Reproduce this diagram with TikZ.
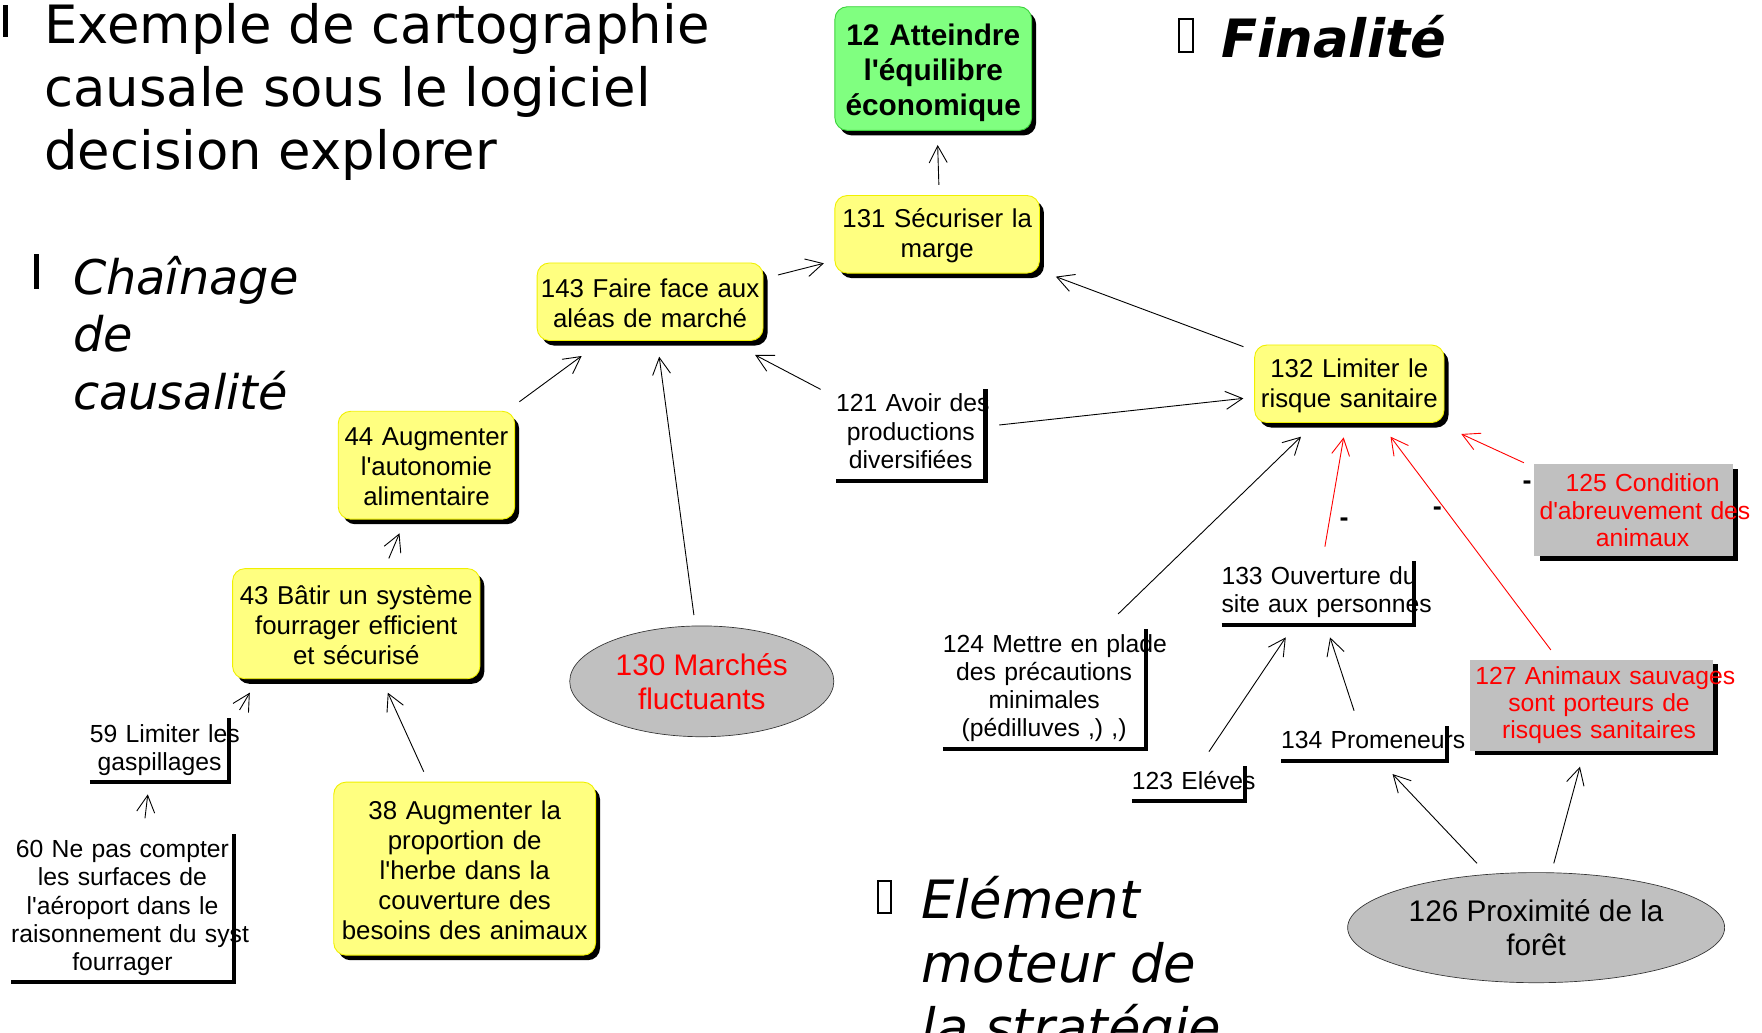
\documentclass[tikz,border=0pt]{standalone}
\usepackage{fontspec}
\setmainfont{Liberation Sans}[Ligatures=TeXOff]
\newfontfamily\headfont{DejaVu Sans}[BoldFont={DejaVu Sans Bold},ItalicFont={DejaVu Sans Oblique},BoldItalicFont={DejaVu Sans Bold Oblique}]
\usetikzlibrary{arrows.meta,shapes.geometric,shadows}

\definecolor{notefill}{RGB}{255,255,128}
\definecolor{noteedge}{RGB}{240,240,0}
\definecolor{goalfill}{RGB}{128,255,128}
\definecolor{goaledge}{RGB}{60,210,60}
\definecolor{factfill}{RGB}{192,192,192}
\definecolor{negred}{RGB}{255,0,0}

% one line of a label, pushed right inside its centred row
\newcommand\pushedrow[2]{\mbox{\hspace*{#1}#2}}

\tikzset{
  every node/.style={inner sep=0pt, outer sep=0pt},
  box/.style={align=center},
  lift/.style={execute at end node={\par\vspace*{#1}}},
  concept/.style={box, rounded corners=11pt, fill=notefill, draw=noteedge, line width=0.8pt,
    font=\fontsize{23}{26.7}\selectfont, lift=-3pt,
    drop shadow={shadow xshift=4pt, shadow yshift=-4.5pt, opacity=1, fill=black}},
  goal/.style={concept, fill=goalfill, draw=goaledge, font=\bfseries\fontsize{26.5}{31}\selectfont},
  factor/.style={box, fill=factfill, text=negred, font=\fontsize{22}{24.3}\selectfont,
    drop shadow={shadow xshift=5pt, shadow yshift=-4pt, opacity=1, fill=black}},
  driver/.style={box, ellipse, fill=factfill, draw=black!80, line width=0.6pt,
    font=\fontsize{26.5}{30}\selectfont},
  plain/.style={box, font=\fontsize{22}{25.2}\selectfont},
  underline/.style={line width=3.6pt, line cap=butt, line join=miter},
  arr/.style={line width=0.8pt, -{Straight Barb[length=15pt,width=16pt]}},
  negarr/.style={arr, draw=negred},
  sign/.style={font=\bfseries\fontsize{24}{24}\selectfont},
  heading/.style={anchor=base west, font=\headfont\fontsize{47}{56}\selectfont},
  subheading/.style={anchor=base west, font=\headfont\itshape\fontsize{42.5}{51}\selectfont},
  bigsubheading/.style={anchor=base west, font=\headfont\itshape\fontsize{47}{56}\selectfont},
  bulletbox/.style={draw=black, line width=1.7pt}
}

\begin{document}
\begin{tikzpicture}[x=1pt,y=-1pt]
\fill[white] (0,0) rectangle (1568,919);
\useasboundingbox (0,0) rectangle (1568,919);

% headings and their bullets
\fill[black] (2.5,4.5) rectangle (7,33);
\node[heading] (title1) at (39.5,38.8) {Exemple de cartographie};
\node[heading] (title2) at (39.5,95) {causale sous le logiciel};
\node[heading] (title3) at (39.5,151) {decision explorer};

\fill[black] (30,226) rectangle (34.5,257);
\node[subheading] (chain1) at (65,262) {Chaînage};
\node[subheading] (chain2) at (65,313) {de};
\node[subheading] (chain3) at (65,364) {causalité};

\draw[bulletbox] (1049.5,17) rectangle (1061.5,46);
\node[anchor=base west, font=\headfont\bfseries\itshape\fontsize{47}{56}\selectfont] (final) at (1087,51) {Finalité};

\draw[bulletbox] (781.5,784) rectangle (792.5,812.5);
\node[bigsubheading] (drive1) at (820,817) {Elément};
\node[bigsubheading] (drive2) at (820,874) {moteur de};
\node[bigsubheading] (drive3) at (820,931) {la stratégie};

% goal and concepts
\node[goal, text width=175pt, minimum height=110pt, lift=-5pt] (n12) at (830.5,61)
  {\mbox{12 Atteindre}\\\mbox{l'équilibre}\\\mbox{économique}};
\node[concept, text width=182pt, minimum height=69pt] (n131) at (834,208.5)
  {\mbox{131 Sécuriser la}\\\mbox{marge}};
\node[concept, text width=201pt, minimum height=69pt] (n143) at (578.5,268.5)
  {\mbox{143 Faire face aux}\\\mbox{aléas de marché}};
\node[concept, text width=157pt, minimum height=96pt] (n44) at (379.5,414)
  {\mbox{44 Augmenter}\\\mbox{l'autonomie}\\\mbox{alimentaire}};
\node[concept, text width=220pt, minimum height=98pt] (n43) at (317,555)
  {\mbox{43 Bâtir un système}\\\mbox{fourrager efficient}\\\mbox{et sécurisé}};
\node[concept, text width=233pt, minimum height=154pt] (n38) at (413.5,773)
  {\mbox{38 Augmenter la}\\\mbox{proportion de}\\\mbox{l'herbe dans la}\\\mbox{couverture des}\\\mbox{besoins des animaux}};
\node[concept, text width=168.5pt, minimum height=69pt] (n132) at (1200.75,341.5)
  {\mbox{132 Limiter le}\\\mbox{risque sanitaire}};

% external factors
\node[factor, text width=176.5pt, minimum height=82pt] (n125) at (1453.75,454)
  {\pushedrow{16pt}{125 Condition}\\\pushedrow{4.5pt}{d'abreuvement des}\\\pushedrow{16pt}{animaux}};
\node[factor, text width=216pt, minimum height=81pt] (n127) at (1416,627.5)
  {\pushedrow{5pt}{127 Animaux sauvages}\\\pushedrow{14pt}{sont porteurs de}\\\pushedrow{14pt}{risques sanitaires}};
\node[driver, minimum width=235pt, minimum height=98.6pt, text=negred] (n130) at (624.5,606.3)
  {130 Marchés\\fluctuants};
\node[driver, minimum width=335.5pt, minimum height=98pt] (n126) at (1367,825.5)
  {126 Proximité de la\\forêt};

% plain statements
\node[plain, text width=133pt, minimum height=81.5pt, lift=7pt] (n121) at (810.5,387.25)
  {\mbox{121 Avoir des}\\\mbox{productions}\\\mbox{diversifiées}};
\node[plain, text width=124pt, minimum height=56.6pt] (n59) at (142,667.3)
  {\mbox{59 Limiter les}\\\mbox{gaspillages}};
\node[plain, text width=198pt, minimum height=132pt] (n60) at (109,808)
  {\mbox{60 Ne pas compter}\\\mbox{les surfaces de}\\\mbox{l'aéroport dans le}\\\mbox{raisonnement du syst}\\\mbox{fourrager}};
\node[plain, text width=180.4pt, minimum height=106.7pt, lift=2pt] (n124) at (929.2,613.35)
  {\mbox{124 Mettre en plade}\\\mbox{des précautions}\\\mbox{minimales}\\\mbox{(pédilluves ,) ,)}};
\node[plain, text width=171.7pt, minimum height=56.7pt, lift=2pt] (n133) at (1172.85,527.65)
  {\mbox{133 Ouverture du}\\\mbox{site aux personnes}};
\node[plain, text width=100.4pt, minimum height=31.6pt, lift=6pt] (n123) at (1057.5,697.2)
  {\mbox{123 Eléves}};
\node[plain, text width=147.3pt, minimum height=31.7pt, lift=6pt] (n134) at (1213.65,661.65)
  {\mbox{134 Promeneurs}};

\foreach \n in {n121,n59,n60,n124,n133,n123,n134}
  \draw[underline] (\n.south west) -- (\n.south east) -- (\n.north east);

% causal links
\draw[arr] ([shift={(1.5,-43.9)}]n131.center) -- ([shift={(3.9,68)}]n12.center);
\draw[arr] ([shift={(113.8,-23.8)}]n143.center) -- ([shift={(-100.8,25.8)}]n131.center);
\draw[arr] ([shift={(-94.25,-33)}]n132.center) -- ([shift={(105.6,37.7)}]n131.center);
\draw[arr] ([shift={(-80.2,-40.75)}]n121.center) -- ([shift={(93.5,47.4)}]n143.center);
\draw[arr] ([shift={(78.7,-9.05)}]n121.center) -- ([shift={(-94.25,13)}]n132.center);
\draw[arr] ([shift={(82.7,-56.5)}]n44.center) -- ([shift={(-60.9,48.3)}]n143.center);
\draw[arr] ([shift={(-7,-59)}]n130.center) -- ([shift={(8.1,48.9)}]n143.center);
\draw[arr] ([shift={(29,-58.1)}]n43.center) -- ([shift={(-24,60.6)}]n44.center);
\draw[arr] ([shift={(71.2,-35.5)}]n59.center) -- ([shift={(-94.7,61.4)}]n43.center);
\draw[arr] ([shift={(20,-79.8)}]n60.center) -- ([shift={(-10.5,39.6)}]n59.center);
\draw[arr] ([shift={(-36.4,-86.3)}]n38.center) -- ([shift={(28.1,61.4)}]n43.center);
\draw[arr] ([shift={(65.8,-67)}]n124.center) -- ([shift={(-43,47.1)}]n132.center);
\draw[negarr] ([shift={(6.15,-41.15)}]n133.center) -- ([shift={(-5.05,47.7)}]n132.center);
\draw[negarr] ([shift={(-35.9,-49.1)}]n127.center) -- ([shift={(36.65,47.1)}]n132.center);
\draw[negarr] ([shift={(-97.65,-42.2)}]n125.center) -- ([shift={(99.65,44.7)}]n132.center);
\draw[arr] ([shift={(18.3,-28.3)}]n123.center) -- ([shift={(-28.65,39.55)}]n133.center);
\draw[arr] ([shift={(-8.65,-29.15)}]n134.center) -- ([shift={(10.75,39.55)}]n133.center);
\draw[arr] ([shift={(-52.6,-57.2)}]n126.center) -- ([shift={(25.55,27.15)}]n134.center);
\draw[arr] ([shift={(15.7,-57.2)}]n126.center) -- ([shift={(-10,54.8)}]n127.center);

% negative-link signs
\node[sign] (m1) at (1196,465) {-};
\node[sign] (m2) at (1279,454.5) {-};
\node[sign] (m3) at (1359,431.5) {-};
\end{tikzpicture}
\end{document}
